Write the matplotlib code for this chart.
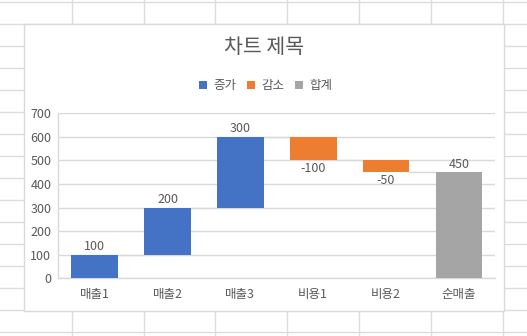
import matplotlib
matplotlib.use("Agg")
import matplotlib.pyplot as plt
from matplotlib.patches import Rectangle, Patch
from matplotlib.lines import Line2D
import numpy as np

plt.rcParams['font.family'] = ['Noto Sans CJK KR', 'DejaVu Sans']

# Waterfall data
categories = ['매출1', '매출2', '매출3', '비용1', '비용2', '순매출']
values = [100, 200, 300, -100, -50, 450]
kinds = ['증가', '증가', '증가', '감소', '감소', '합계']
legend_labels = ['증가', '감소', '합계']
colors = {'증가': '#4472C4', '감소': '#ED7D31', '합계': '#A5A5A5'}
y_ticks = [0, 100, 200, 300, 400, 500, 600, 700]
title = '차트 제목'

W, H = 527, 336
DPI = 100
TEXT = '#595959'
GRID = '#D9D9D9'
SHEET = '#DCDCDC'

fig = plt.figure(figsize=(W / DPI, H / DPI), dpi=DPI)
fig.patch.set_facecolor('white')


def fx(px):
    return px / W


def fy(py):
    return 1 - py / H


# Spreadsheet cell grid behind the chart
for k in range(16):
    y = 2.3 + 21.98 * k
    fig.add_artist(Line2D([0, 1], [fy(y), fy(y)], color=SHEET, lw=1.0,
                          transform=fig.transFigure, zorder=-3))
for k in range(7):
    x = 71.6 + 71.93 * k
    fig.add_artist(Line2D([fx(x), fx(x)], [0, 1], color=SHEET, lw=1.0,
                          transform=fig.transFigure, zorder=-3))

# Chart area box
fig.add_artist(Rectangle((fx(24.2), fy(311)), fx(504.3) - fx(24.2), fy(23.5) - fy(311),
                         transform=fig.transFigure, facecolor='white',
                         edgecolor=GRID, lw=1.0, zorder=-2))

# Plot area
left, right, top, bottom = 58.3, 495.3, 113.3, 278.3
ax = fig.add_axes([fx(left), fy(bottom), fx(right) - fx(left), fy(top) - fy(bottom)])
ax.set_facecolor('none')

x = np.arange(len(categories))
bar_w = 0.64

# Compute bar bases from running totals
running = 0
bottoms, heights, levels = [], [], []
for v, k in zip(values, kinds):
    if k == '합계':
        bottoms.append(0)
        heights.append(v)
        running = v
    else:
        bottoms.append(running if v >= 0 else running + v)
        heights.append(abs(v))
        running += v
    levels.append(running)

ax.bar(x, heights, bottom=bottoms, width=bar_w,
       color=[colors[k] for k in kinds], zorder=3)

# Connector lines between consecutive bars
for i in range(len(values) - 1):
    ax.plot([x[i] + bar_w / 2, x[i + 1] - bar_w / 2], [levels[i], levels[i]],
            color=GRID, lw=1.0, zorder=2)

# Data labels
for xi, v, b, h in zip(x, values, bottoms, heights):
    if v >= 0:
        ax.annotate(f'{v}', (xi, b + h), xytext=(0, 1), textcoords='offset points',
                    ha='center', va='bottom', fontsize=9, color=TEXT)
    else:
        ax.annotate(f'{v}', (xi, b), xytext=(0, -1), textcoords='offset points',
                    ha='center', va='top', fontsize=9, color=TEXT)

ax.set_xlim(-0.5, len(categories) - 0.5)
ax.set_ylim(0, 700)
ax.set_yticks(y_ticks)
ax.set_xticks(x)
ax.set_xticklabels(categories)
ax.yaxis.grid(True, color=GRID, lw=1.0, zorder=0)
ax.set_axisbelow(True)
for s in ['top', 'right']:
    ax.spines[s].set_visible(False)
for s in ['left', 'bottom']:
    ax.spines[s].set_color(GRID)
    ax.spines[s].set_linewidth(1.0)
ax.tick_params(axis='both', length=0, labelsize=9, colors=TEXT)
ax.tick_params(axis='y', pad=5)
ax.tick_params(axis='x', pad=7)

# Title
fig.text(fx(264.5), fy(47), title, ha='center', va='center', fontsize=14.8, color=TEXT)

# Legend
handles = [Patch(facecolor=colors[k], edgecolor='none') for k in legend_labels]
fig.legend(handles, legend_labels, loc='center', bbox_to_anchor=(fx(266), fy(86)),
           ncol=3, frameon=False, fontsize=9, labelcolor=TEXT,
           handlelength=0.65, handleheight=0.65, handletextpad=0.5,
           columnspacing=0.85, borderpad=0)

fig.savefig('out.png', dpi=DPI, facecolor='white')
